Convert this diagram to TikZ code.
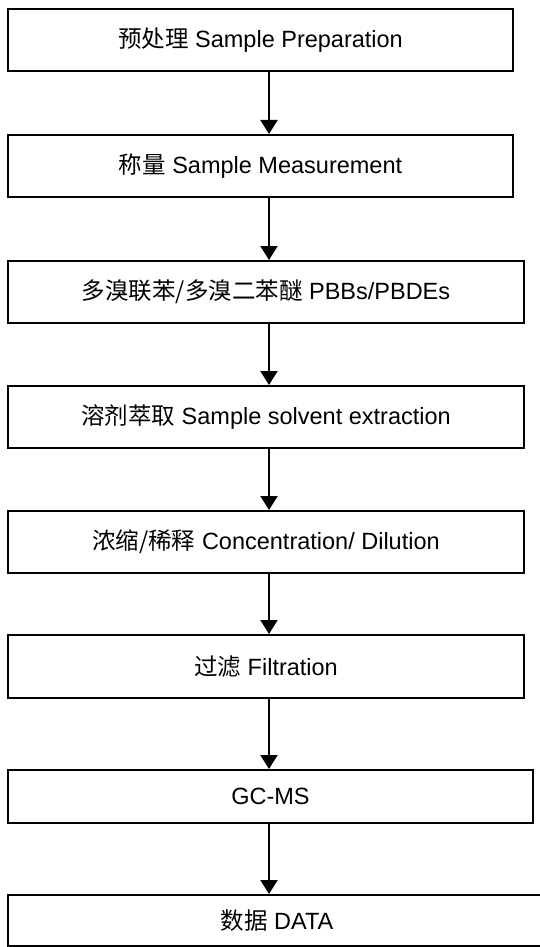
\documentclass[tikz,border=0pt]{standalone}
\usepackage{fontspec}
\setmainfont{Liberation Sans}
\newfontfamily\cjk{Noto Sans CJK SC}
\usetikzlibrary{arrows.meta}
\newcommand{\zh}[1]{{\cjk\fontsize{23.5}{26}\selectfont #1}}
\tikzset{
  stepbox/.style={draw=black, line width=2pt, rectangle, inner sep=0pt,
    font=\fontsize{23.5}{28}\selectfont, text=black},
  flow/.style={line width=2pt, -{Triangle[width=17pt,length=14pt]}}
}
\begin{document}
\begin{tikzpicture}[x=1pt,y=-1pt]
\useasboundingbox (0,0) rectangle (540,947);
\fill[white] (0,0) rectangle (540,947);
\node[stepbox, minimum width=505pt, minimum height=62pt] (b1) at (260.5,40.5) {\zh{预处理} Sample Preparation};
\node[stepbox, minimum width=505pt, minimum height=62pt] (b2) at (260.5,166) {\zh{称量} Sample Measurement};
\node[stepbox, minimum width=516pt, minimum height=62pt] (b3) at (266,292) {\zh{多溴联苯/多溴二苯醚} PBBs/PBDEs};
\node[stepbox, minimum width=516pt, minimum height=62pt] (b4) at (266,417) {\zh{溶剂萃取} Sample solvent extraction};
\node[stepbox, minimum width=516pt, minimum height=62pt] (b5) at (266,542) {\zh{浓缩/稀释} Concentration/ Dilution};
\node[stepbox, minimum width=516pt, minimum height=63pt] (b6) at (266,666.5) {\zh{过滤} Filtration};
\node[stepbox, minimum width=525pt, minimum height=53pt] (b7) at (270.5,796.5) {GC-MS};
\node[stepbox, minimum width=538pt, minimum height=51pt] (b8) at (277,920.5) {\zh{数据} DATA};
\coordinate (ax) at (269,0);
\draw[flow] (b1.south -| ax) -- (b2.north -| ax);
\draw[flow] (b2.south -| ax) -- (b3.north -| ax);
\draw[flow] (b3.south -| ax) -- (b4.north -| ax);
\draw[flow] (b4.south -| ax) -- (b5.north -| ax);
\draw[flow] (b5.south -| ax) -- (b6.north -| ax);
\draw[flow] (b6.south -| ax) -- (b7.north -| ax);
\draw[flow] (b7.south -| ax) -- (b8.north -| ax);
\end{tikzpicture}
\end{document}
